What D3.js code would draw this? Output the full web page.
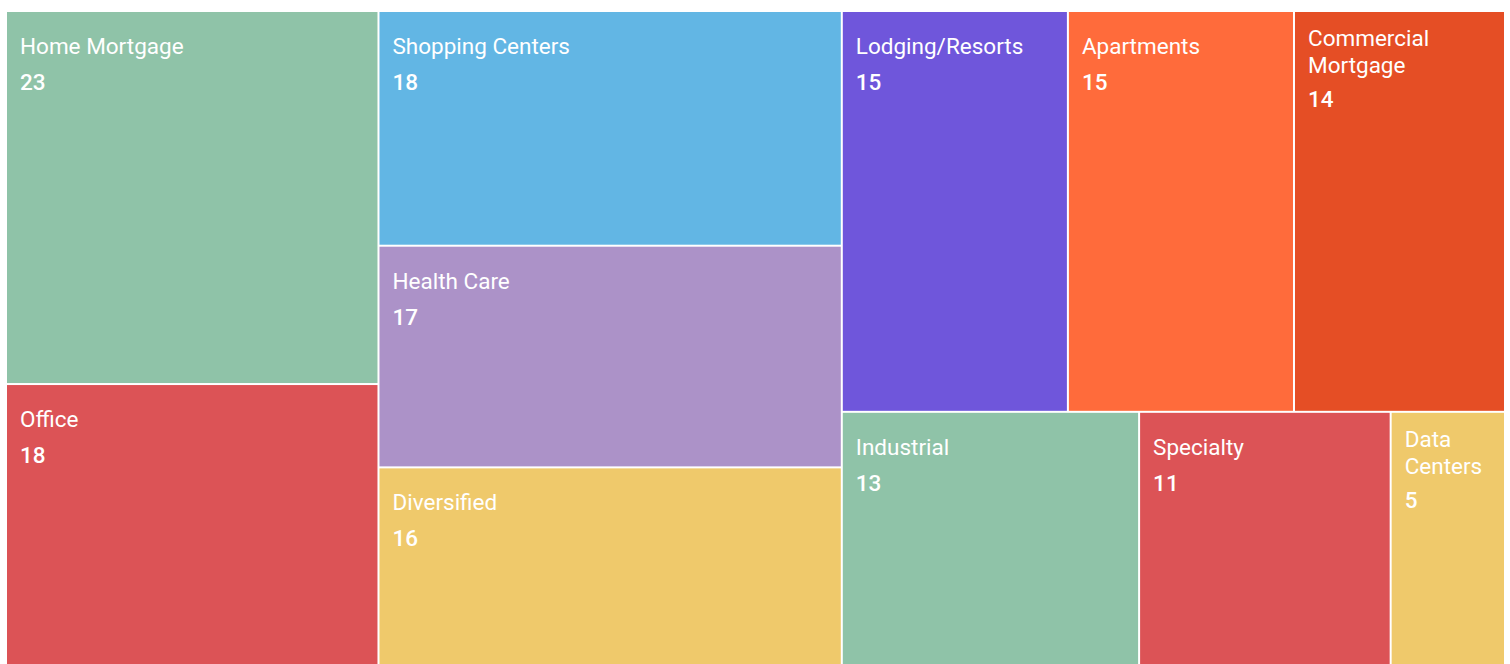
<!DOCTYPE html>
<html>
<head>
<meta charset="utf-8">
<script src="https://cdn.jsdelivr.net/npm/d3@7"></script>
<style>
  html, body { margin: 0; padding: 0; background: #fff; overflow: hidden; }
  #wrapper { position: absolute; left: 7px; top: 12px; }
  text { font-family: Roboto, "Noto Sans", sans-serif; fill: #fff; }
</style>
</head>
<body>
<div id="wrapper"></div>
<script>
// sectors and their values
const sectors = ["Home Mortgage", "Office", "Shopping Centers", "Health Care", "Diversified",
    "Lodging/Resorts", "Apartments", "Commercial Mortgage", "Industrial", "Specialty", "Data Centers"];
const counts = [23, 18, 18, 17, 16, 15, 15, 14, 13, 11, 5];
const colors = ["#8fc3a8", "#dc5356", "#62b6e4", "#ac92c8", "#efc96b",
    "#6f56db", "#ff6b3b", "#e54e25", "#8fc3a8", "#dc5356", "#efc96b"];

function buildPlot() {
    var dimension = { width: 1497, height: 663 };

    const data = sectors.map((s, i) => ({ name: s, value: counts[i], color: colors[i] }));

    const root = d3.hierarchy({ children: data })
        .sum(d => d.value || 0)
        .sort((a, b) => b.value - a.value);

    d3.treemap()
        .tile(d3.treemapSquarify)
        .size([dimension.width, dimension.height])
        .paddingInner(2)
        .round(false)(root);

    const svg = d3.select("#wrapper").append("svg")
        .attr("width", dimension.width)
        .attr("height", dimension.height);

    const cell = svg.selectAll("g")
        .data(root.leaves())
        .join("g")
        .attr("transform", d => `translate(${d.x0},${d.y0})`);

    cell.append("rect")
        .attr("width", d => d.x1 - d.x0)
        .attr("height", d => d.y1 - d.y0)
        .attr("fill", d => d.data.color);

    cell.each(function (d) {
        const g = d3.select(this);
        const maxW = d.x1 - d.x0 - 28;
        // wrap label words to fit the cell
        const words = d.data.name.split(" ");
        const lines = [];
        let cur = "";
        const probe = g.append("text").style("font-size", "22.5px");
        words.forEach(w => {
            const test = cur ? cur + " " + w : w;
            probe.text(test);
            if (cur && probe.node().getComputedTextLength() > maxW) {
                lines.push(cur);
                cur = w;
            } else {
                cur = test;
            }
        });
        lines.push(cur);
        probe.remove();

        const multi = lines.length > 1;
        const first = multi ? 34 : 42;
        const label = g.append("text")
            .style("font-size", "22.5px");
        lines.forEach((l, i) => {
            label.append("tspan")
                .attr("x", 13)
                .attr("y", first + i * 27)
                .text(l);
        });
        g.append("text")
            .attr("x", 13)
            .attr("y", first + (lines.length - 1) * 27 + (multi ? 34 : 36))
            .style("font-size", "22.5px")
            .style("font-weight", 500)
            .text(d.data.value);
    });
}
buildPlot();
</script>
</body>
</html>
